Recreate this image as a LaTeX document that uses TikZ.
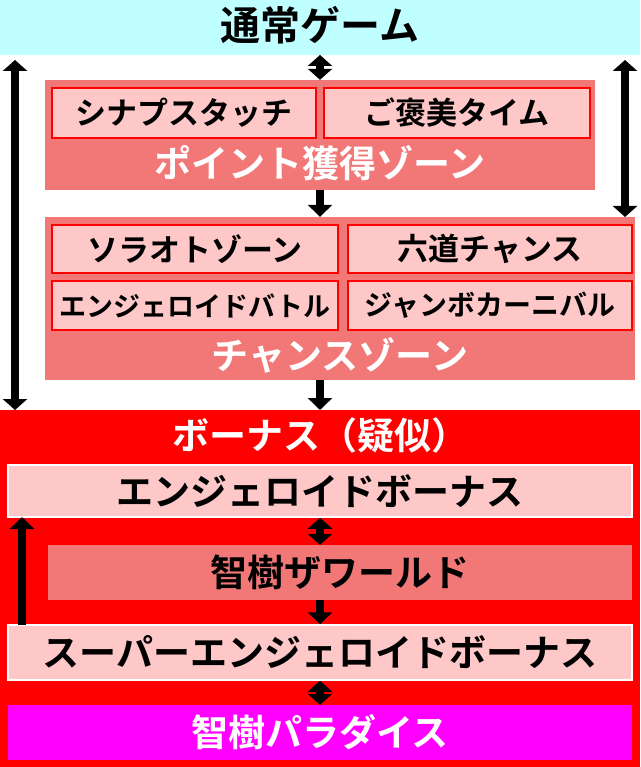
\documentclass[tikz,border=0pt]{standalone}
\usepackage{fontspec}
\newfontfamily\jp{Noto Sans CJK JP}[BoldFont={Noto Sans CJK JP Bold}]
\usetikzlibrary{arrows.meta}
\definecolor{cyanbg}{HTML}{C0FFFF}
\definecolor{salmon}{HTML}{F27878}
\definecolor{lpink}{HTML}{FFC8C8}
\definecolor{bonred}{HTML}{FF0000}
\definecolor{paramag}{HTML}{FF00FF}
\tikzset{
  zone/.style={fill=salmon,draw=none,inner sep=0pt},
  subbox/.style={fill=lpink,draw=red,line width=2pt,inner sep=0pt,font=\jp\bfseries\fontsize{31}{33}\selectfont},
  bonbox/.style={fill=lpink,draw=white,line width=1.5pt,inner sep=0pt,minimum width=624pt,font=\jp\bfseries\fontsize{37}{39}\selectfont},
  wlabel/.style={text=white,font=\jp\bfseries\fontsize{37}{39}\selectfont},
  bigarr/.style={line width=8pt,-{Triangle[width=24pt,length=12pt]}},
  dblarr/.style={line width=8pt,{Triangle[width=24pt,length=11pt]}-{Triangle[width=24pt,length=11pt]}},
}
\begin{document}
\begin{tikzpicture}[x=1pt,y=-1pt]
\useasboundingbox (0,0) rectangle (640,767);
\fill[white] (0,0) rectangle (640,767);
% normal game
\fill[cyanbg] (0,0) rectangle (640,55);
\node[font=\jp\bfseries\fontsize{40}{42}\selectfont] (tsujo) at (320,25) {通常ゲーム};
% point zone
\node[zone,minimum width=550pt,minimum height=110pt] (pzone) at (320,135) {};
\node[subbox,minimum width=264pt,minimum height=50pt] (synapse) at (184,113) {シナプスタッチ};
\node[subbox,minimum width=266pt,minimum height=50pt] (gohobi) at (457,113) {ご褒美タイム};
\node[wlabel] (plabel) at (320,163) {ポイント獲得ゾーン};
% chance zone
\node[zone,minimum width=590pt,minimum height=163pt] (czone) at (340,298.5) {};
\node[subbox,minimum width=286pt,minimum height=48pt] (sorato) at (195,249) {ソラオトゾーン};
\node[subbox,minimum width=284pt,minimum height=48pt] (rikudo) at (490,249) {六道チャンス};
\node[subbox,minimum width=286pt,minimum height=49pt,font=\jp\bfseries\fontsize{27}{29}\selectfont] (battle) at (195,305.5) {エンジェロイドバトル};
\node[subbox,minimum width=284pt,minimum height=49pt,font=\jp\bfseries\fontsize{28}{30}\selectfont] (jumbo) at (490,305.5) {ジャンボカーニバル};
\node[wlabel] (clabel) at (340,355) {チャンスゾーン};
% bonus
\fill[bonred] (0,410) rectangle (640,767);
\node[wlabel] (blabel) at (320,435) {ボーナス（疑似）};
\node[bonbox,minimum height=52pt] (ebonus) at (320,491) {エンジェロイドボーナス};
\node[zone,minimum width=584pt,minimum height=55pt,font=\jp\bfseries\fontsize{37}{39}\selectfont] (world) at (340,572.5) {智樹ザワールド};
\node[bonbox,minimum height=55pt] (sebonus) at (320,652.5) {スーパーエンジェロイドボーナス};
\node[fill=paramag,minimum width=624pt,minimum height=55pt,inner sep=0pt,wlabel] (paradise) at (320,732.5) {智樹パラダイス};
% arrows
\coordinate (ltop) at (15,60);
\coordinate (lbot) at (15,410);
\coordinate (rtop) at (625,60);
\coordinate (rbot) at (625,217);
\coordinate (upbot) at (22,625);
\coordinate (uptop) at (22,517);
\draw[dblarr] (320,55) -- (pzone.north);
\draw[bigarr] (pzone.south -| 320,0) -- (czone.north -| 320,0);
\draw[bigarr] (czone.south -| 320,0) -- (320,410);
\draw[dblarr] (ebonus.south) -- (world.north -| ebonus.south);
\draw[bigarr] (world.south -| ebonus.south) -- (sebonus.north);
\draw[dblarr] (sebonus.south) -- (paradise.north);
\draw[dblarr] (ltop) -- (lbot);
\draw[dblarr] (rtop) -- (rbot);
\draw[bigarr] (upbot) -- (uptop);
\end{tikzpicture}
\end{document}
